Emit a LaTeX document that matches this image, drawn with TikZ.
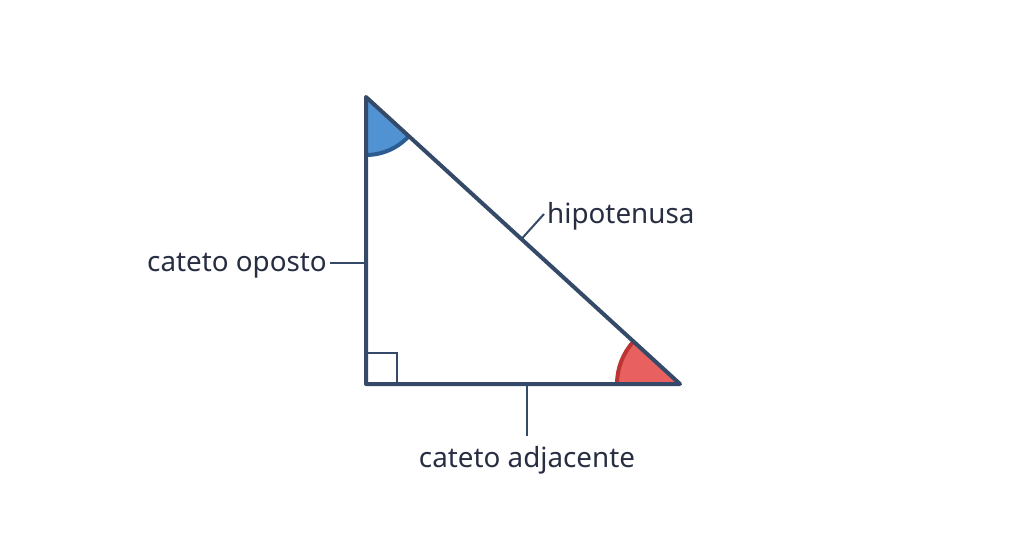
\documentclass[tikz,border=0pt]{standalone}
\usepackage{fontspec}
\setmainfont{Noto Sans}
\usetikzlibrary{calc}
\definecolor{navy}{RGB}{52,74,104}
\definecolor{txt}{RGB}{40,46,66}
\definecolor{bluefill}{RGB}{80,146,210}
\definecolor{blueedge}{RGB}{44,92,145}
\definecolor{redfill}{RGB}{232,96,96}
\definecolor{rededge}{RGB}{188,52,52}
\tikzset{
  side/.style={draw=navy,line width=4pt,line join=round,line cap=round},
  tick/.style={draw=navy,line width=2pt},
  lbl/.style={text=txt,font=\fontsize{27.8}{32}\selectfont,inner sep=0pt},
}
\begin{document}
\begin{tikzpicture}[x=1pt,y=-1pt]
\useasboundingbox (0,0) rectangle (1024,559);
\coordinate (A) at (366,97);
\coordinate (B) at (366,384);
\coordinate (C) at (680,384);
\pgfmathsetmacro{\ang}{atan2(287,314)}
% angle sectors
\fill[bluefill] (A) -- ($(A)!58pt!(B)$) arc[start angle=90,end angle=\ang,radius=58] -- cycle;
\draw[blueedge,line width=4pt] ($(A)!58pt!(B)$) arc[start angle=90,end angle=\ang,radius=58];
\fill[redfill] (C) -- ($(C)!63pt!(B)$) arc[start angle=180,end angle={180+\ang},radius=63] -- cycle;
\draw[rededge,line width=4pt] ($(C)!63pt!(B)$) arc[start angle=180,end angle={180+\ang},radius=63];
% right angle mark
\draw[tick] (366,353) -- (397,353) -- (397,384);
% triangle
\draw[side] (A) -- (B) -- (C) -- cycle;
% labels
\node[lbl,anchor=east] (op) at (327,266) {cateto oposto};
\node[lbl,anchor=west] (hip) at (547,216) {hipotenusa};
\node[lbl,anchor=north] (adj) at (527,446) {cateto adjacente};
\coordinate (opT) at (366,263);
\coordinate (opE) at (330,263);
\coordinate (hipT) at ($(A)!0.495!(C)$);
\coordinate (hipE) at (544,214);
\coordinate (adjT) at (527,384);
\coordinate (adjE) at (527,436);
\draw[tick] (opE) -- (opT);
\draw[tick] (hipT) -- (hipE);
\draw[tick] (adjT) -- (adjE);
\end{tikzpicture}
\end{document}
